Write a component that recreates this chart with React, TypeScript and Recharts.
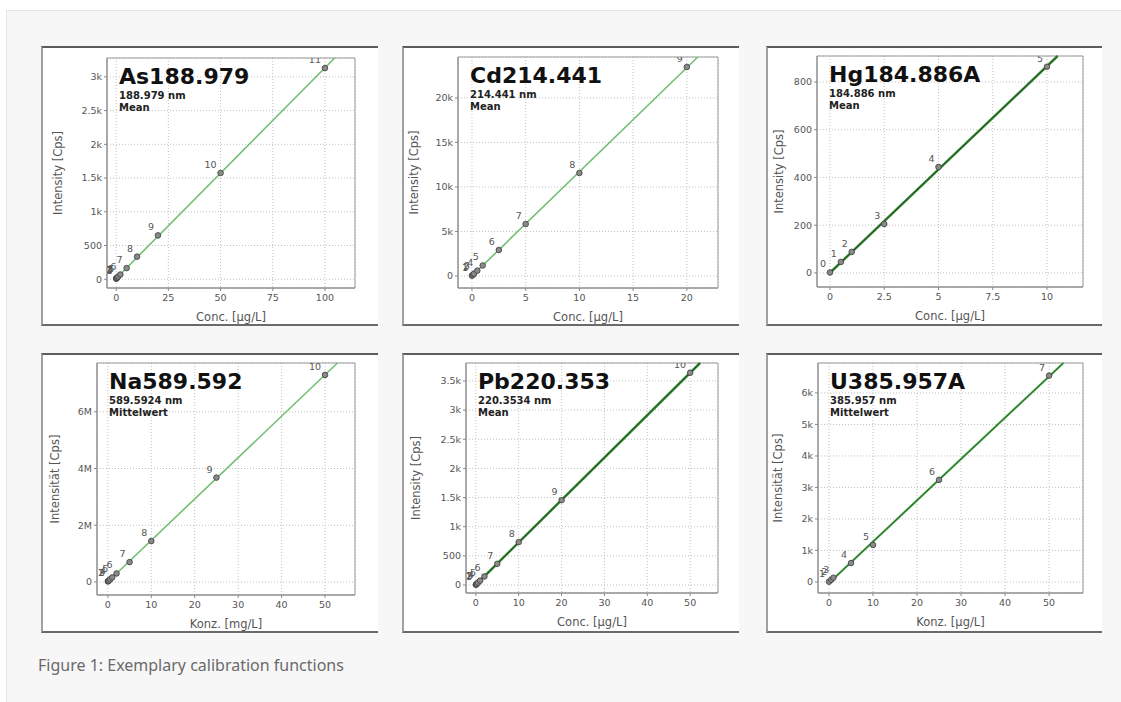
import React from 'react';
import { ScatterChart, Scatter, XAxis, YAxis, CartesianGrid, ReferenceLine, ReferenceArea } from 'recharts';

// As188.979
const asConc = [0, 0.1, 0.2, 0.5, 1, 2, 5, 10, 20, 50, 100];
const asInt = [8, 12, 15, 24, 40, 70, 165, 335, 650, 1575, 3130];
const asLabels = ['1', '2', '3', '4', '5', '6', '7', '8', '9', '10', '11'];
const asXTicks = [0, 25, 50, 75, 100];
const asYTicks = [0, 500, 1000, 1500, 2000, 2500, 3000];

// Cd214.441
const cdConc = [0, 0.1, 0.2, 0.5, 1, 2.5, 5, 10, 20];
const cdInt = [40, 150, 270, 600, 1180, 2920, 5840, 11570, 23480];
const cdLabels = ['1', '2', '3', '4', '5', '6', '7', '8', '9'];
const cdXTicks = [0, 5, 10, 15, 20];
const cdYTicks = [0, 5000, 10000, 15000, 20000];

// Hg184.886A
const hgConc = [0, 0.5, 1, 2.5, 5, 10];
const hgInt = [2, 46, 88, 205, 444, 864];
const hgLabels = ['0', '1', '2', '3', '4', '5'];
const hgXTicks = [0, 2.5, 5, 7.5, 10];
const hgYTicks = [0, 200, 400, 600, 800];

// Na589.592
const naConc = [0, 0.1, 0.2, 0.5, 1, 2, 5, 10, 25, 50];
const naInt = [20000, 32000, 45000, 90000, 160000, 300000, 700000, 1440000, 3680000, 7300000];
const naLabels = ['1', '2', '3', '4', '5', '6', '7', '8', '9', '10'];
const naXTicks = [0, 10, 20, 30, 40, 50];
const naYTicks = [0, 2000000, 4000000, 6000000];

// Pb220.353
const pbConc = [0, 0.1, 0.2, 0.5, 1, 2, 5, 10, 20, 50];
const pbInt = [5, 12, 20, 40, 75, 148, 364, 736, 1455, 3640];
const pbLabels = ['1', '2', '3', '4', '5', '6', '7', '8', '9', '10'];
const pbXTicks = [0, 10, 20, 30, 40, 50];
const pbYTicks = [0, 500, 1000, 1500, 2000, 2500, 3000, 3500];

// U385.957A
const uConc = [0, 0.5, 1, 5, 10, 25, 50];
const uInt = [10, 70, 135, 600, 1175, 3240, 6550];
const uLabels = ['1', '2', '3', '4', '5', '6', '7'];
const uXTicks = [0, 10, 20, 30, 40, 50];
const uYTicks = [0, 1000, 2000, 3000, 4000, 5000, 6000];

const FONT = '"DejaVu Sans", Verdana, sans-serif';
const lightLine = [{ stroke: '#72bf72', w: 1.6 }];
const darkLine = [{ stroke: '#3b8f3b', w: 2.6 }, { stroke: '#1d3b1d', w: 0.9 }];
const midLine = [{ stroke: '#48a848', w: 2.2 }, { stroke: '#264626', w: 0.7 }];

const panels = [
  { title: 'As188.979', line1: '188.979 nm', line2: 'Mean', yTitle: 'Intensity [Cps]', xTitle: 'Conc. [µg/L]',
    conc: asConc, int: asInt, labels: asLabels, xTicks: asXTicks, yTicks: asYTicks,
    xDomain: [-4.4, 114.4], yDomain: [-130, 3280], m: { left: 66, right: 23, top: 12, bottom: 38 }, yTitleX: 17, lines: lightLine },
  { title: 'Cd214.441', line1: '214.441 nm', line2: 'Mean', yTitle: 'Intensity [Cps]', xTitle: 'Conc. [µg/L]',
    conc: cdConc, int: cdInt, labels: cdLabels, xTicks: cdXTicks, yTicks: cdYTicks,
    xDomain: [-1.3, 22.9], yDomain: [-1350, 24600], m: { left: 56, right: 21, top: 11, bottom: 38 }, yTitleX: 12, lines: lightLine },
  { title: 'Hg184.886A', line1: '184.886 nm', line2: 'Mean', yTitle: 'Intensity [Cps]', xTitle: 'Conc. [µg/L]',
    conc: hgConc, int: hgInt, labels: hgLabels, xTicks: hgXTicks, yTicks: hgYTicks,
    xDomain: [-0.6, 11.66], yDomain: [-59, 909], m: { left: 51, right: 19, top: 10, bottom: 39 }, yTitleX: 13, lines: darkLine },
  { title: 'Na589.592', line1: '589.5924 nm', line2: 'Mittelwert', yTitle: 'Intensität [Cps]', xTitle: 'Konz. [mg/L]',
    conc: naConc, int: naInt, labels: naLabels, xTicks: naXTicks, yTicks: naYTicks,
    xDomain: [-2.5, 56.9], yDomain: [-460000, 7720000], m: { left: 56, right: 23, top: 10, bottom: 38 }, yTitleX: 14, lines: lightLine },
  { title: 'Pb220.353', line1: '220.3534 nm', line2: 'Mean', yTitle: 'Intensity [Cps]', xTitle: 'Conc. [µg/L]',
    conc: pbConc, int: pbInt, labels: pbLabels, xTicks: pbXTicks, yTicks: pbYTicks,
    xDomain: [-2.3, 56.5], yDomain: [-137, 3808], m: { left: 64, right: 21, top: 10, bottom: 40 }, yTitleX: 14, lines: darkLine },
  { title: 'U385.957A', line1: '385.957 nm', line2: 'Mittelwert', yTitle: 'Intensität [Cps]', xTitle: 'Konz. [µg/L]',
    conc: uConc, int: uInt, labels: uLabels, xTicks: uXTicks, yTicks: uYTicks,
    xDomain: [-2.5, 57.7], yDomain: [-350, 6950], m: { left: 52, right: 19, top: 10, bottom: 40 }, yTitleX: 12, lines: midLine },
];

const colLeft = [41, 402, 766];
const colWidth = [337, 337, 336];
const rowTop = [46, 353];
const PH = 280;

const fmt = (v: number) => {
  if (Math.abs(v) >= 1e6) return `${v / 1e6}M`;
  if (Math.abs(v) >= 1000) return `${v / 1000}k`;
  return `${v}`;
};

// least squares fit of the calibration points
function linFit(xs: number[], ys: number[]) {
  const n = xs.length;
  const mx = xs.reduce((a, b) => a + b, 0) / n;
  const my = ys.reduce((a, b) => a + b, 0) / n;
  let sxy = 0, sxx = 0;
  xs.forEach((x, i) => { sxy += (x - mx) * (ys[i] - my); sxx += (x - mx) * (x - mx); });
  const m = sxy / sxx;
  return { m, b: my - m * mx };
}

const StdPoint = (props: any) => {
  const { cx, cy, payload } = props;
  if (cx == null || cy == null) return null;
  return (
    <g>
      <circle cx={cx} cy={cy} r={2.8} fill="#8a8a8a" stroke="#3a3a3a" strokeWidth={0.8} />
      <text x={cx - 4} y={cy - 5} textAnchor="end" fontSize={9.5} fill="#555">{payload.label}</text>
    </g>
  );
};

function Panel({ p, left, top, width }: any) {
  const { m } = p;
  const data = p.conc.map((c: number, i: number) => ({ x: c, y: p.int[i], label: p.labels[i] }));
  const fit = linFit(p.conc, p.int);
  const x0 = 0;
  const y0 = fit.b;
  let x1 = p.xDomain[1];
  let y1 = fit.b + fit.m * x1;
  if (y1 > p.yDomain[1]) { y1 = p.yDomain[1]; x1 = (y1 - fit.b) / fit.m; }
  const plotTop = m.top;
  const plotBottom = PH - m.bottom;
  const plotCx = (m.left + width - m.right) / 2;
  const plotCy = (plotTop + plotBottom) / 2;
  const tx = m.left + 12;

  return (
    <div style={{ position: 'absolute', left, top, width, height: PH }}>
      <div style={{ position: 'absolute', inset: 0, background: '#fff', borderTop: '2px solid #5c5c5c', borderBottom: '2px solid #6a6a6a', borderLeft: '2px solid #a0a0a0', boxSizing: 'border-box' }} />
      <div style={{ position: 'absolute', left: 0, top: 0 }}>
        <ScatterChart width={width} height={PH} margin={{ top: m.top, right: m.right, bottom: 0, left: 8 }}>
          <CartesianGrid stroke="#c2c2c2" strokeDasharray="1 2" />
          <XAxis type="number" dataKey="x" domain={p.xDomain} ticks={p.xTicks} interval={0} allowDataOverflow
            height={m.bottom} tickSize={3} tickMargin={3} stroke="#8a8a8a" tick={{ fontSize: 9.5, fill: '#555' }} />
          <YAxis type="number" dataKey="y" domain={p.yDomain} ticks={p.yTicks} interval={0} allowDataOverflow
            width={m.left - 8} tickSize={3} tickMargin={2} stroke="#8a8a8a" tickFormatter={fmt} tick={{ fontSize: 9.5, fill: '#555' }} />
          <ReferenceArea x1={p.xDomain[0]} x2={p.xDomain[1]} y1={p.yDomain[0]} y2={p.yDomain[1]} fill="none" stroke="#9a9a9a" strokeWidth={1} fillOpacity={0} />
          {p.lines.map((l: any, i: number) => (
            <ReferenceLine key={i} segment={[{ x: x0, y: y0 }, { x: x1, y: y1 }]} stroke={l.stroke} strokeWidth={l.w} ifOverflow="visible" />
          ))}
          <Scatter data={data} isAnimationActive={false} shape={StdPoint} />
        </ScatterChart>
      </div>
      <svg width={width} height={PH} style={{ position: 'absolute', left: 0, top: 0, pointerEvents: 'none' }}>
        <text x={tx} y={plotTop + 26} fontSize={22} fontWeight="bold" fill="#111">{p.title}</text>
        <text x={tx} y={plotTop + 41} fontSize={10} fontWeight="bold" fill="#222">{p.line1}</text>
        <text x={tx} y={plotTop + 53} fontSize={10} fontWeight="bold" fill="#222">{p.line2}</text>
        <text x={plotCx} y={plotBottom + 33} fontSize={11.5} fill="#555" textAnchor="middle">{p.xTitle}</text>
        <text x={p.yTitleX} y={plotCy} fontSize={11.5} fill="#555" textAnchor="middle" dominantBaseline="central"
          transform={`rotate(-90 ${p.yTitleX} ${plotCy})`}>{p.yTitle}</text>
      </svg>
    </div>
  );
}

export default function App() {
  return (
    <div style={{ position: 'absolute', left: 0, top: 0, width: 1121, height: 702, background: '#fff', fontFamily: FONT, overflow: 'hidden' }}>
      <div style={{ position: 'absolute', left: 6, top: 10, width: 1115, height: 692, background: '#f7f7f7', borderTop: '1px solid #e4e4e4', borderLeft: '1px solid #e4e4e4', boxSizing: 'border-box' }} />
      {panels.map((p, i) => (
        <Panel key={p.title} p={p} left={colLeft[i % 3]} top={rowTop[Math.floor(i / 3)]} width={colWidth[i % 3]} />
      ))}
      <div style={{ position: 'absolute', left: 38, top: 654, fontFamily: '"Noto Sans", "Open Sans", sans-serif', fontSize: 16, lineHeight: '22px', color: '#6a6a6a', whiteSpace: 'nowrap' }}>
        Figure 1: Exemplary calibration functions
      </div>
    </div>
  );
}
